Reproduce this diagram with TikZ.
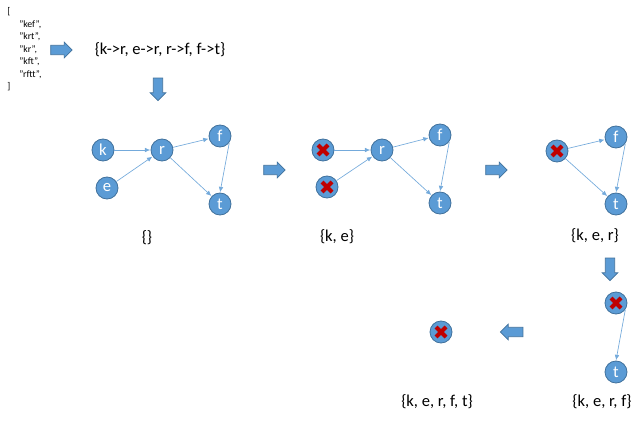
\documentclass[tikz,border=0pt]{standalone}
\usepackage{fontspec}
\setmainfont{Carlito}
\usepackage{xcolor}
\usetikzlibrary{arrows.meta, shapes.arrows}
\definecolor{nodeblue}{RGB}{91, 155, 213}
\definecolor{nodeline}{RGB}{65, 113, 156}
\definecolor{crossred}{RGB}{192, 0, 0}

\tikzset{
  vtx/.style={circle, fill=nodeblue, draw=nodeline, line width=0.6pt,
    minimum size=16.5pt, inner sep=0pt, text=white, font=\fontsize{12.5}{12.5}\selectfont},
  edge/.style={-{Latex[length=4pt, width=3.5pt]}, nodeblue!85, line width=0.5pt, shorten >=0.3pt},
  bigarrow/.style={single arrow, fill=nodeblue, draw=nodeline, line width=0.5pt,
    inner sep=3.3pt, single arrow head extend=2.4pt},
  setlabel/.style={font=\fontsize{12.4}{14}\selectfont},
  listtext/.style={anchor=west, inner sep=0pt, font=\fontsize{7.3}{8}\selectfont},
}

% red X on a removed vertex
\newcommand{\knockout}[1]{%
  \draw[crossred, line width=3pt] (#1) ++(-5,-5) -- ++(10,10);
  \draw[crossred, line width=3pt] (#1) ++(-5,5) -- ++(10,-10);
}

\begin{document}
\begin{tikzpicture}[x=0.75pt, y=-0.75pt]
    \useasboundingbox (0,0) rectangle (640,421);

    % input words
    \node[listtext] (open) at (7,12) {[};
    \foreach \w [count=\i] in {kef, krt, kr, kft, rftt}
        \node[listtext] (w\i) at (19,{12+12.5*\i}) {"\w",};
    \node[listtext] (close) at (7,87) {]};

    \node[bigarrow, minimum height=16pt] (a1) at (59,50) {};
    \node[setlabel] (rules) at (160,50) {\{k->r, e->r, r->f, f->t\}};
    \node[bigarrow, minimum height=17pt, shape border rotate=270] (a2) at (158,87) {};

    % step 1: full graph
    \node[vtx] (g1k) at (103,150) {k};
    \node[vtx] (g1e) at (107,188) {e};
    \node[vtx] (g1r) at (162,150) {r};
    \node[vtx] (g1f) at (220,136) {f};
    \node[vtx] (g1t) at (220,204) {t};
    \draw[edge] (g1k) -- (g1r);
    \draw[edge] (g1e) -- (g1r);
    \draw[edge] (g1r) -- (g1f);
    \draw[edge] (g1r) -- (g1t);
    \draw[edge] (g1f.-35) -- (g1t.north);
    \node[setlabel] (s1) at (147,238) {\{\}};

    \node[bigarrow, minimum height=16pt] (a3) at (272,170) {};

    % step 2: k and e gone
    \node[vtx] (g2k) at (323,150) {};
    \node[vtx] (g2e) at (327,187) {};
    \node[vtx] (g2r) at (382,150) {r};
    \node[vtx] (g2f) at (440,135) {f};
    \node[vtx] (g2t) at (440,203) {t};
    \draw[edge] (g2k) -- (g2r);
    \draw[edge] (g2e) -- (g2r);
    \draw[edge] (g2r) -- (g2f);
    \draw[edge] (g2r) -- (g2t);
    \draw[edge] (g2f.-35) -- (g2t.north);
    \knockout{g2k}
    \knockout{g2e}
    \node[setlabel] (s2) at (337,237) {\{k, e\}};

    \node[bigarrow, minimum height=16pt] (a4) at (494,170) {};

    % step 3: r gone
    \node[vtx] (g3r) at (557,151) {};
    \node[vtx] (g3f) at (616,137) {f};
    \node[vtx] (g3t) at (616,204) {t};
    \draw[edge] (g3r) -- (g3f);
    \draw[edge] (g3r) -- (g3t);
    \draw[edge] (g3f.-35) -- (g3t.north);
    \knockout{g3r}
    \node[setlabel] (s3) at (595,236) {\{k, e, r\}};

    \node[bigarrow, minimum height=17pt, shape border rotate=270] (a5) at (610,267) {};

    % step 4: f gone
    \node[vtx] (g4f) at (616,303) {};
    \node[vtx] (g4t) at (616,372) {t};
    \draw[edge] (g4f.-35) -- (g4t.north);
    \knockout{g4f}
    \node[setlabel] (s4) at (602,402) {\{k, e, r, f\}};

    \node[bigarrow, minimum height=17pt, shape border rotate=180] (a6) at (514,332) {};

    % step 5: t gone
    \node[vtx] (g5t) at (441,332) {};
    \knockout{g5t}
    \node[setlabel] (s5) at (437,402) {\{k, e, r, f, t\}};
\end{tikzpicture}
\end{document}
